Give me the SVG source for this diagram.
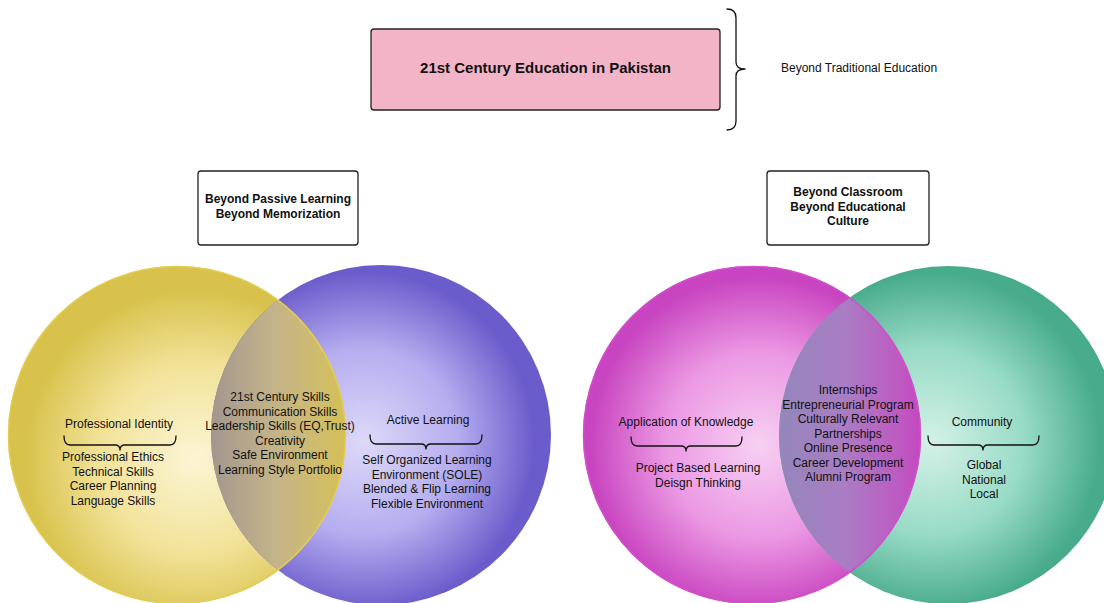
<svg xmlns="http://www.w3.org/2000/svg" width="1104" height="603" viewBox="0 0 1104 603">
  <defs>
    <style>
      text { font-family: "Liberation Sans", Arial, sans-serif; fill: #111; }
      .t { font-size: 12px; text-anchor: middle; }
      .b { font-size: 12px; font-weight: bold; text-anchor: middle; }
      .box { fill: #fff; stroke: #222; stroke-width: 1.3; }
      .brace { fill: none; stroke: #111; stroke-width: 1.3; stroke-linecap: round; stroke-linejoin: round; }
    </style>
    <radialGradient id="gYellow" cx="0.55" cy="0.57" r="0.5">
      <stop offset="0" stop-color="#fbf5d4"/>
      <stop offset="0.55" stop-color="#f2e39a"/>
      <stop offset="1" stop-color="#d8c24c"/>
    </radialGradient>
    <radialGradient id="gBlue" cx="0.45" cy="0.52" r="0.5">
      <stop offset="0" stop-color="#ddd9f8"/>
      <stop offset="0.55" stop-color="#b5adef"/>
      <stop offset="1" stop-color="#6b5ccb"/>
    </radialGradient>
    <radialGradient id="gMagenta" cx="0.52" cy="0.53" r="0.5">
      <stop offset="0" stop-color="#f7d0f2"/>
      <stop offset="0.55" stop-color="#eb98e3"/>
      <stop offset="1" stop-color="#c844c0"/>
    </radialGradient>
    <radialGradient id="gGreen" cx="0.45" cy="0.52" r="0.5">
      <stop offset="0" stop-color="#d4f1e7"/>
      <stop offset="0.55" stop-color="#98dbc6"/>
      <stop offset="1" stop-color="#48ab8c"/>
    </radialGradient>
    <linearGradient id="gLensL" gradientUnits="userSpaceOnUse" x1="212" y1="0" x2="346" y2="0">
      <stop offset="0" stop-color="#a4968e"/>
      <stop offset="0.45" stop-color="#c3b38a"/>
      <stop offset="0.8" stop-color="#cfbc6c"/>
      <stop offset="1" stop-color="#d4bf55"/>
    </linearGradient>
    <linearGradient id="gLensR" gradientUnits="userSpaceOnUse" x1="779" y1="0" x2="922" y2="0">
      <stop offset="0" stop-color="#9486bb"/>
      <stop offset="0.45" stop-color="#a97dc3"/>
      <stop offset="0.8" stop-color="#bb5ec2"/>
      <stop offset="1" stop-color="#c548bf"/>
    </linearGradient>
    <clipPath id="clipYellow"><circle cx="177" cy="435" r="169"/></clipPath>
    <clipPath id="clipMagenta"><circle cx="752" cy="435" r="169"/></clipPath>
  </defs>

  <rect width="1104" height="603" fill="#fff"/>

  <!-- Title -->
  <g id="title">
    <rect x="371" y="29" width="349" height="81" rx="3" fill="#f4b4c7" stroke="#222" stroke-width="1.3"/>
    <text x="545.5" y="73" style="font-size:15px;font-weight:bold;text-anchor:middle">21st Century Education in Pakistan</text>
  </g>

  <g id="traditional">
    <path class="brace" d="M727,9 Q736,9 736,18 L736,62 Q736,69 745,69 Q736,69 736,76 L736,121 Q736,130 727,130"/>
    <text x="781" y="72" style="font-size:12px">Beyond Traditional Education</text>
  </g>

  <!-- Heading boxes -->
  <g id="box-passive">
    <rect class="box" x="198" y="171" width="160" height="74" rx="3"/>
    <text class="b" x="278" y="203">Beyond Passive Learning</text>
    <text class="b" x="278" y="218">Beyond Memorization</text>
  </g>
  <g id="box-classroom">
    <rect class="box" x="767" y="171" width="162" height="74" rx="3"/>
    <text class="b" x="848" y="196">Beyond Classroom</text>
    <text class="b" x="848" y="211">Beyond Educational</text>
    <text class="b" x="848" y="225">Culture</text>
  </g>

  <!-- Left Venn: professional identity / active learning -->
  <g id="venn-left">
    <circle cx="177" cy="435" r="169" fill="url(#gYellow)"/>
    <circle cx="381" cy="435" r="170" fill="url(#gBlue)"/>
    <circle cx="381" cy="435" r="170" fill="url(#gLensL)" clip-path="url(#clipYellow)"/>
    <circle cx="177" cy="435" r="168.5" fill="none" stroke="#e2cc52" stroke-width="1.5"/>
  </g>

  <!-- Right Venn: application of knowledge / community -->
  <g id="venn-right">
    <circle cx="752" cy="435" r="169" fill="url(#gMagenta)"/>
    <circle cx="948" cy="435" r="169" fill="url(#gGreen)"/>
    <circle cx="948" cy="435" r="169" fill="url(#gLensR)" clip-path="url(#clipMagenta)"/>
    <circle cx="752" cy="435" r="168.5" fill="none" stroke="#d24fcb" stroke-width="1.5"/>
  </g>

  <g id="professional-identity">
    <text class="t" x="119" y="428">Professional Identity</text>
    <path class="brace" d="M64,436 Q64,445 70,445 L115,445 Q120,445 120,450 Q120,445 125,445 L170,445 Q176,445 176,436"/>
    <text class="t" x="113" y="461">Professional Ethics</text>
    <text class="t" x="113" y="475.5">Technical Skills</text>
    <text class="t" x="113" y="490">Career Planning</text>
    <text class="t" x="113" y="504.5">Language Skills</text>
  </g>

  <g id="shared-skills">
    <text class="t" x="280" y="401">21st Century Skills</text>
    <text class="t" x="280" y="415.5">Communication Skills</text>
    <text class="t" x="280" y="430">Leadership Skills (EQ,Trust)</text>
    <text class="t" x="280" y="444.5">Creativity</text>
    <text class="t" x="280" y="459">Safe Environment</text>
    <text class="t" x="280" y="473.5">Learning Style Portfolio</text>
  </g>

  <g id="active-learning">
    <text class="t" x="428" y="424">Active Learning</text>
    <path class="brace" d="M370,435 Q370,444 376,444 L421,444 Q426,444 426,449 Q426,444 431,444 L476,444 Q482,444 482,435"/>
    <text class="t" x="427" y="464">Self Organized Learning</text>
    <text class="t" x="427" y="478.5">Environment (SOLE)</text>
    <text class="t" x="427" y="493">Blended &amp; Flip Learning</text>
    <text class="t" x="427" y="507.5">Flexible Environment</text>
  </g>

  <g id="application-knowledge">
    <text class="t" x="686" y="426">Application of Knowledge</text>
    <path class="brace" d="M631,437 Q631,446 637,446 L681,446 Q686,446 686,451 Q686,446 691,446 L736,446 Q742,446 742,437"/>
    <text class="t" x="698" y="472">Project Based Learning</text>
    <text class="t" x="698" y="486.5">Deisgn Thinking</text>
  </g>

  <g id="shared-outreach">
    <text class="t" x="848" y="394">Internships</text>
    <text class="t" x="848" y="408.5">Entrepreneurial Program</text>
    <text class="t" x="848" y="423">Culturally Relevant</text>
    <text class="t" x="848" y="437.5">Partnerships</text>
    <text class="t" x="848" y="452">Online Presence</text>
    <text class="t" x="848" y="466.5">Career Development</text>
    <text class="t" x="848" y="481">Alumni Program</text>
  </g>

  <g id="community">
    <text class="t" x="982" y="426">Community</text>
    <path class="brace" d="M928,436 Q928,445 934,445 L978,445 Q983,445 983,450 Q983,445 988,445 L1033,445 Q1039,445 1039,436"/>
    <text class="t" x="984" y="469">Global</text>
    <text class="t" x="984" y="483.5">National</text>
    <text class="t" x="984" y="498">Local</text>
  </g>

  <g id="connectors"></g>
</svg>
